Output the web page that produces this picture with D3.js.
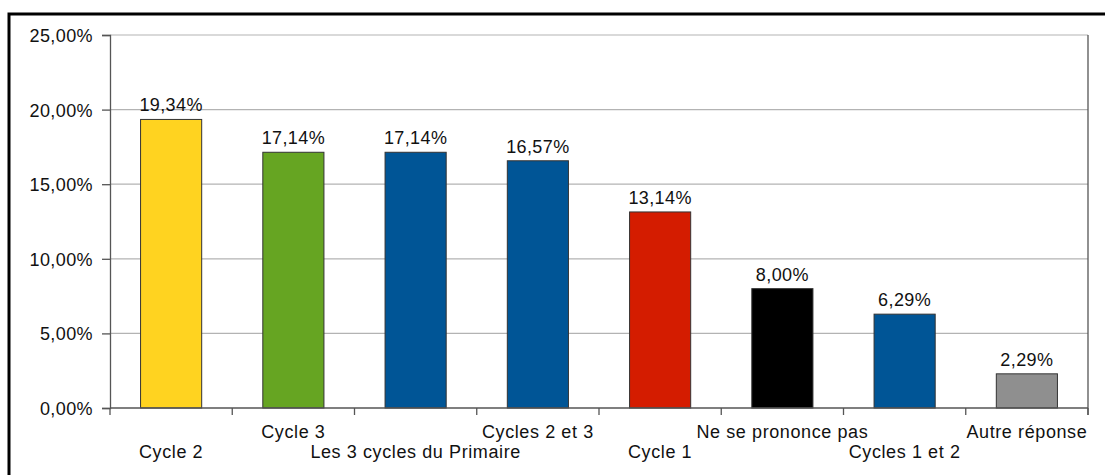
<!DOCTYPE html>
<html>
<head>
<meta charset="utf-8">
<script src="https://cdn.jsdelivr.net/npm/d3@7"></script>
<style>
body { margin: 0; background: #fff; }
svg { display: block; font-family: "Liberation Sans", Arial, sans-serif; }
</style>
</head>
<body>
<svg id="chart" width="1105" height="475"></svg>
<script>
const categories = ["Cycle 2", "Cycle 3", "Les 3 cycles du Primaire", "Cycles 2 et 3", "Cycle 1", "Ne se prononce pas", "Cycles 1 et 2", "Autre réponse"];
const values = [19.34, 17.14, 17.14, 16.57, 13.14, 8.00, 6.29, 2.29];
const barColors = ["#ffd320", "#66a522", "#005596", "#005596", "#d41c00", "#000000", "#005596", "#8f8f8f"];
const yTicks = [0, 5, 10, 15, 20, 25];

const svg = d3.select('#chart');
const plotLeft = 110, plotRight = 1088, plotTop = 35, plotBottom = 408;

// outer frame
svg.append('rect')
  .attr('x', 9).attr('y', 14)
  .attr('width', 1110).attr('height', 480)
  .attr('fill', 'none').attr('stroke', '#000').attr('stroke-width', 3);

const x = d3.scaleBand().domain(categories).range([plotLeft, plotRight]).paddingInner(0.5).paddingOuter(0.25);
const y = d3.scaleLinear().domain([0, 25]).range([plotBottom, plotTop]);

const fmt = v => v.toFixed(2).replace('.', ',') + '%';

// gridlines
svg.append('g').selectAll('line')
  .data(yTicks.filter(t => t > 0))
  .enter().append('line')
  .attr('x1', plotLeft).attr('x2', plotRight)
  .attr('y1', d => y(d)).attr('y2', d => y(d))
  .attr('stroke', '#b3b3b3').attr('stroke-width', 1.2);

// right border of plot
svg.append('line')
  .attr('x1', plotRight).attr('x2', plotRight).attr('y1', plotTop).attr('y2', plotBottom + 7)
  .attr('stroke', '#555').attr('stroke-width', 1.3);

// bars
svg.append('g').selectAll('rect')
  .data(values)
  .enter().append('rect')
  .attr('x', (d, i) => x(categories[i]))
  .attr('y', d => y(d))
  .attr('width', x.bandwidth())
  .attr('height', d => plotBottom - y(d))
  .attr('fill', (d, i) => barColors[i])
  .attr('stroke', '#333').attr('stroke-width', 1);

// value labels
svg.append('g').selectAll('text')
  .data(values)
  .enter().append('text')
  .attr('x', (d, i) => x(categories[i]) + x.bandwidth() / 2)
  .attr('y', d => y(d) - 8)
  .attr('text-anchor', 'middle')
  .style('font-size', '18px')
  .style('letter-spacing', '0.4px')
  .attr('fill', '#111')
  .text(d => fmt(d));

// y axis
const yAxis = d3.axisLeft(y).tickValues(yTicks).tickSize(8).tickPadding(9).tickFormat(fmt);
const gy = svg.append('g').attr('transform', `translate(${plotLeft},0)`).call(yAxis);
gy.select('.domain').attr('stroke', '#555').attr('stroke-width', 1.3);
gy.selectAll('.tick line').attr('stroke', '#555').attr('stroke-width', 1.3);
gy.selectAll('text').style('font-size', '18px').style('letter-spacing', '0.4px').attr('fill', '#111').attr('dy', '0.36em');

// x axis line + ticks at band boundaries
const step = x.step();
svg.append('line')
  .attr('x1', plotLeft).attr('x2', plotRight).attr('y1', plotBottom).attr('y2', plotBottom)
  .attr('stroke', '#555').attr('stroke-width', 1.3);
svg.append('g').selectAll('line')
  .data(d3.range(categories.length + 1))
  .enter().append('line')
  .attr('x1', i => plotLeft + i * step).attr('x2', i => plotLeft + i * step)
  .attr('y1', plotBottom).attr('y2', plotBottom + 7)
  .attr('stroke', '#555').attr('stroke-width', 1.3);

// category labels, staggered
svg.append('g').selectAll('text')
  .data(categories)
  .enter().append('text')
  .attr('x', d => x(d) + x.bandwidth() / 2)
  .attr('y', (d, i) => i % 2 === 0 ? 458 : 438)
  .attr('text-anchor', 'middle')
  .style('font-size', '18px')
  .style('letter-spacing', '0.6px')
  .attr('fill', '#111')
  .text(d => d);
</script>
</body>
</html>
